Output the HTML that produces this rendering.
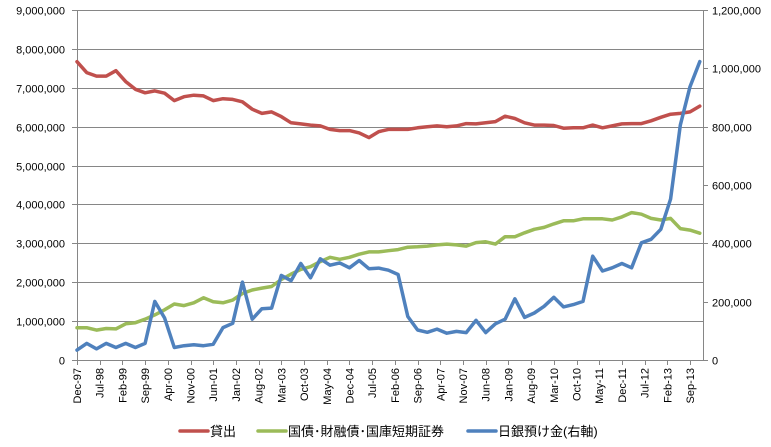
<!DOCTYPE html>
<html><head><meta charset="utf-8">
<style>
body{margin:0;background:#fff;}
svg{display:block;font-family:"Liberation Sans","Noto Sans CJK JP",sans-serif;}
</style></head>
<body>
<svg id="chart" width="771" height="447" viewBox="0 0 771 447"></svg>
<script>
const xLabels=["Dec-97","Jul-98","Feb-99","Sep-99","Apr-00","Nov-00","Jun-01","Jan-02","Aug-02","Mar-03","Oct-03","May-04","Dec-04","Jul-05","Feb-06","Sep-06","Apr-07","Nov-07","Jun-08","Jan-09","Aug-09","Mar-10","Oct-10","May-11","Dec-11","Jul-12","Feb-13","Sep-13"];
const leftTicks=[0,1000000,2000000,3000000,4000000,5000000,6000000,7000000,8000000,9000000];
const rightTicks=[0,200000,400000,600000,800000,1000000,1200000];
const loans=[7.67,7.39,7.30,7.30,7.44,7.16,6.96,6.87,6.92,6.86,6.67,6.77,6.81,6.79,6.67,6.72,6.70,6.64,6.45,6.34,6.38,6.26,6.10,6.07,6.04,6.02,5.93,5.90,5.90,5.84,5.72,5.87,5.93,5.93,5.93,5.97,6.00,6.02,6.00,6.02,6.08,6.07,6.10,6.13,6.27,6.21,6.10,6.04,6.04,6.03,5.96,5.97,5.97,6.04,5.97,6.02,6.07,6.08,6.08,6.15,6.24,6.32,6.34,6.38,6.53];
const bonds=[0.83,0.83,0.77,0.81,0.80,0.93,0.96,1.05,1.16,1.29,1.44,1.40,1.47,1.60,1.50,1.47,1.54,1.71,1.80,1.85,1.89,2.07,2.21,2.33,2.40,2.53,2.64,2.59,2.64,2.72,2.78,2.78,2.81,2.84,2.90,2.91,2.93,2.96,2.98,2.96,2.93,3.02,3.04,2.98,3.17,3.17,3.27,3.36,3.41,3.50,3.58,3.58,3.63,3.63,3.63,3.60,3.68,3.79,3.75,3.64,3.60,3.64,3.38,3.34,3.26];
const boj=[34,57,38,57,43,57,43,57,201,144,43,49,52,49,54,111,126,267,140,176,178,290,272,331,282,347,325,333,316,341,313,315,308,293,149,103,95,106,92,98,94,136,94,124,140,210,146,161,184,215,182,190,201,356,305,316,331,316,402,414,448,552,805,937,1023];

const NS="http://www.w3.org/2000/svg";
const svg=document.getElementById('chart');
const L=77,R=703,T=10,B=360;
const monthW=(R-L)/193;
function xM(m){return L+m*monthW;}
function yL(v){return B-(v/9000000)*(B-T);}
function yR(v){return B-(v/1200000)*(B-T);}
function mk(tag,attrs){const e=document.createElementNS(NS,tag);for(const k in attrs)e.setAttribute(k,attrs[k]);svg.appendChild(e);return e;}
function fmt(v){return v.toLocaleString('en-US');}

leftTicks.forEach(v=>{
  const y=Math.round(yL(v))+0.5;
  if(v>0){const g=mk('line',{x1:L,x2:R,y1:y,y2:y,stroke:'#868686','stroke-width':1});
  
  }
  const tk=mk('line',{x1:L-5,x2:L,y1:y,y2:y,stroke:'#868686'});
  
  
  const t=mk('text',{x:L-12,y:y+4,'text-anchor':'end','font-size':11,fill:'#000'});
  t.textContent=fmt(v);
  
  
});
rightTicks.forEach(v=>{
  const y=Math.round(yR(v))+0.5;
  const tk=mk('line',{x1:R,x2:R+5,y1:y,y2:y,stroke:'#868686'});
  
  
  const t=mk('text',{x:R+9,y:y+4,'font-size':11,fill:'#000'});
  t.textContent=fmt(v);
  
  
});
let ax=mk('line',{x1:L+0.5,x2:L+0.5,y1:T,y2:B,stroke:'#868686'});


ax=mk('line',{x1:R+0.5,x2:R+0.5,y1:T,y2:B,stroke:'#868686'});


ax=mk('line',{x1:L,x2:R,y1:B+0.5,y2:B+0.5,stroke:'#868686'});



xLabels.forEach((s,i)=>{
  const x=xM(i*7);
  const tk=mk('line',{x1:Math.round(x)+0.5,x2:Math.round(x)+0.5,y1:B,y2:B+5,stroke:'#868686'});
  
  
  const t=mk('text',{x:0,y:0,'text-anchor':'end','font-size':11,fill:'#000',transform:`translate(${x+4},368) rotate(-90)`});
  t.textContent=s;
  
  
});

function series(arr,yf,scale,color,name){
  const pts=arr.map((v,i)=>xM(i*3).toFixed(1)+','+yf(v*scale).toFixed(1)).join(' ');
  const p=mk('polyline',{points:pts,fill:'none',stroke:color,'stroke-width':3.5,'stroke-linejoin':'round','stroke-linecap':'round'});
  
  
}
series(loans,yL,1000000,'#C0504D','loans-line');
series(bonds,yL,1000000,'#9BBB59','bonds-line');
series(boj,yR,1000,'#4F81BD','boj-deposits-line');

const legend=[["貸出",180,'#C0504D','legend-loans'],["国債･財融債･国庫短期証券",258,'#9BBB59','legend-bonds'],["日銀預け金(右軸)",468,'#4F81BD','legend-boj-deposits']];
legend.forEach(([s,x,c,n])=>{
  const l=mk('line',{x1:x,x2:x+28,y1:431,y2:431,stroke:c,'stroke-width':3.5,'stroke-linecap':'round'});
  
  
  const t=mk('text',{x:x+30,y:436,'font-size':13,fill:'#000'});
  t.textContent=s;
  
  
});
</script>
</body></html>
